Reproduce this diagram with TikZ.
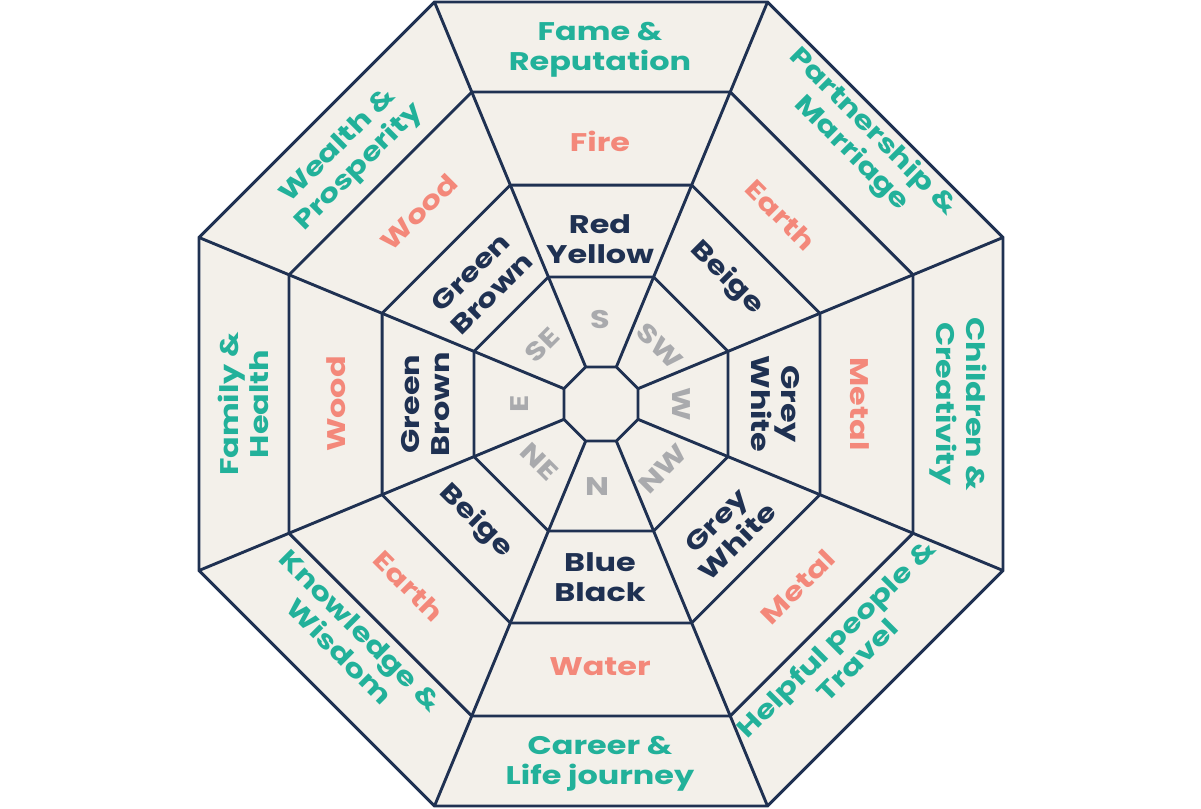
\documentclass[tikz,border=0pt]{standalone}
\usepackage{fontspec}
\newfontfamily\lab{Poppins}[FakeStretch=1.25]
\definecolor{navyc}{HTML}{1F3152}
\definecolor{tealc}{HTML}{22B19A}
\definecolor{salmonc}{HTML}{F3887A}
\definecolor{greyc}{HTML}{A9AAAD}
\definecolor{paperc}{HTML}{F3F0EA}
\tikzset{
  ln/.style={draw=navyc, line width=2.9pt, line join=miter},
  lbl/.style={align=center, inner sep=0pt, font=\lab\bfseries\fontsize{25.5}{30}\selectfont},
  outerlbl/.style={lbl, text=tealc},
  elemlbl/.style={lbl, text=salmonc},
  collbl/.style={lbl, text=navyc},
  cmplbl/.style={lbl, text=greyc}
}
\begin{document}
\begin{tikzpicture}[x=1pt,y=-1pt]
\useasboundingbox (0,0) rectangle (1201,808);
\coordinate (ctr) at (601,404);
\foreach \r/\n in {435.1/a,337.7/b,237.0/c,137.5/d,40.05/e}{
  \foreach \k in {0,...,7}{
    \coordinate (\n\k) at ([shift={(601,404)}] {22.5+45*\k}:\r);
  }
}
\fill[paperc] (a0) -- (a1) -- (a2) -- (a3) -- (a4) -- (a5) -- (a6) -- (a7) -- cycle;
\foreach \k in {0,...,7}{
  \draw[ln] (e\k) -- (a\k);
}
\foreach \n in {a,b,c,d,e}{
  \draw[ln] (\n0) -- (\n1) -- (\n2) -- (\n3) -- (\n4) -- (\n5) -- (\n6) -- (\n7) -- cycle;
}
% top
\node[outerlbl] (t1) at (600,50) {Fame \&\\Reputation};
\node[elemlbl] (t2) at (600,141) {Fire};
\node[collbl] (t3) at (600,239) {Red\\Yellow};
\node[cmplbl] (t4) at (600,320) {S};
% top right
\node[outerlbl, rotate=-45] (tr1) at (862,143) {Partnership \&\\Marriage};
\node[elemlbl, rotate=-45] (tr2) at (781,215) {Earth};
\node[collbl, rotate=-45] (tr3) at (727,278) {Beige};
\node[cmplbl, rotate=-45] (tr4) at (660,346) {SW};
% right
\node[outerlbl, rotate=-90] (r1) at (958,404) {Children \&\\Creativity};
\node[elemlbl, rotate=-90] (r2) at (860,404) {Metal};
\node[collbl, rotate=-90] (r3) at (775,404) {Grey\\White};
\node[cmplbl, rotate=-90] (r4) at (681,404) {W};
% bottom right
\node[outerlbl, rotate=45] (br1) at (846,649) {Helpful people \&\\Travel};
\node[elemlbl, rotate=45] (br2) at (798,587) {Metal};
\node[collbl, rotate=45] (br3) at (727,531) {Grey\\White};
\node[cmplbl, rotate=45] (br4) at (663,469) {NW};
% bottom
\node[outerlbl] (b1) at (600,764) {Career \&\\Life journey};
\node[elemlbl] (b2) at (600,667) {Water};
\node[collbl] (b3) at (600,577) {Blue\\Black};
\node[cmplbl] (b4) at (597,487) {N};
% bottom left
\node[outerlbl, rotate=-45] (bl1) at (350,641) {Knowledge \&\\Wisdom};
\node[elemlbl, rotate=-45] (bl2) at (409,586) {Earth};
\node[collbl, rotate=-45] (bl3) at (476,521) {Beige};
\node[cmplbl, rotate=-45] (bl4) at (539,462) {NE};
% left
\node[outerlbl, rotate=90] (l1) at (243,404) {Family \&\\Health};
\node[elemlbl, rotate=90] (l2) at (336,404) {Wood};
\node[collbl, rotate=90] (l3) at (426,404) {Green\\Brown};
\node[cmplbl, rotate=90] (l4) at (520,404) {E};
% top left
\node[outerlbl, rotate=45] (tl1) at (349,157) {Wealth \&\\Prosperity};
\node[elemlbl, rotate=45] (tl2) at (419,212) {Wood};
\node[collbl, rotate=45] (tl3) at (481,283) {Green\\Brown};
\node[cmplbl, rotate=45] (tl4) at (542,345) {SE};
\end{tikzpicture}
\end{document}
